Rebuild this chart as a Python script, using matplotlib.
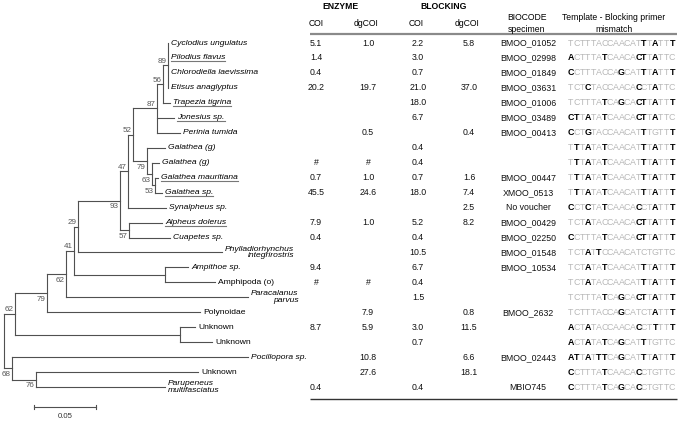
import matplotlib.pyplot as plt
from matplotlib.transforms import offset_copy, IdentityTransform
from matplotlib.lines import Line2D

plt.rcParams['font.family'] = ['Liberation Sans', 'DejaVu Sans']

# taxa in tree order (one table row each)
taxa = ["Cyclodius ungulatus", "Pilodius flavus", "Chlorodiella laevissima", "Etisus anaglyptus",
        "Trapezia tigrina", "Jonesius sp.", "Perinia tumida", "Galathea (g)", "Galathea (g)",
        "Galathea mauritiana", "Galathea sp.", "Synalpheus sp.", "Alpheus dolerus", "Cuapetes sp.",
        "Phylladiorhynchus\nintegrirostris", "Ampithoe sp.", "Amphipoda (o)", "Paracalanus\nparvus",
        "Polynoidae", "Unknown", "Unknown", "Pocillopora sp.", "Unknown", "Parupeneus\nmultifasciatus"]
not_italic = ["Amphipoda (o)", "Polynoidae", "Unknown"]
underlined = [1, 4, 5, 9, 10, 12]

# tree: tips are (row, branch length), nodes are (support, branch length, children, label side)
tree = (None, 0.0, [
    (62, 0.0089, [
        (79, 0.0258, [
            (62, 0.0153, [
                (41, 0.0065, [
                    (29, 0.0032, [
                        (93, 0.0339, [
                            (47, 0.0065, [
                                (52, 0.0040, [
                                    (87, 0.0194, [
                                        (56, 0.0048, [
                                            (89, 0.0040, [(0, 0.0), (1, 0.0), (2, 0.0), (3, 0.0)], 'a'),
                                            (4, 0.0056)], 'a'),
                                        (5, 0.0137), (6, 0.0185)], 'a'),
                                    (79, 0.0113, [
                                        (7, 0.0145),
                                        (63, 0.0040, [
                                            (8, 0.0056),
                                            (53, 0.0024, [(9, 0.0024), (10, 0.0056)], 'b')], 'b')], 'b')], 'a'),
                                (11, 0.0306)], 'a'),
                            (57, 0.0073, [(12, 0.0266), (13, 0.0331)], 'b')], 'b'),
                        (14, 0.1161)], 'a'),
                    (None, 0.0734, [(15, 0.0185), (16, 0.0403)], 'a')], 'a'),
                (17, 0.1468)], 'b'),
            (18, 0.1234)], 'b'),
        (None, 0.1331, [(19, 0.0121), (20, 0.0258)], 'a')], 'a'),
    (68, 0.0065, [
        (21, 0.1903),
        (76, 0.0194, [(22, 0.1306), (23, 0.1040)], 'b')], 'b')], 'a')

# table values
enzyme_coi = ["5.1", "1.4", "0.4", "20.2", "", "", "", "", "#", "0.7", "45.5", "", "7.9", "0.4",
              "", "9.4", "#", "", "", "8.7", "", "", "", "0.4"]
enzyme_dgcoi = ["1.0", "", "", "19.7", "", "", "0.5", "", "#", "1.0", "24.6", "", "1.0", "",
                "", "", "#", "", "7.9", "5.9", "", "10.8", "27.6", ""]
blocking_coi = ["2.2", "3.0", "0.7", "21.0", "18.0", "6.7", "", "0.4", "0.4", "0.7", "18.0", "", "5.2", "0.4",
                "10.5", "6.7", "0.4", "1.5", "", "3.0", "0.7", "", "", "0.4"]
blocking_dgcoi = ["5.8", "", "", "37.0", "", "", "0.4", "", "", "1.6", "7.4", "2.5", "8.2", "",
                  "", "", "", "", "0.8", "11.5", "", "6.6", "18.1", ""]
biocode = ["BMOO_01052", "BMOO_02998", "BMOO_01849", "BMOO_03631", "BMOO_01006", "BMOO_03489",
           "BMOO_00413", "", "", "BMOO_00447", "XMOO_0513", "No voucher", "BMOO_00429", "BMOO_02250",
           "BMOO_01548", "BMOO_10534", "", "", "BMOO_2632", "", "", "BMOO_02443", "", "MBIO745"]
primer = "TCTTTACCAACATCTGTTC"
templates = ["TCTTTACCAACATTTATTT", "ACTTTATCAACACTTATTC", "CCTTTACCAGCATTTATTT", "TCTCTACCAACACCTATTC",
             "TCTTTATCAGCACTTATTT", "CTTATATCAACACTTATTC", "CCTGTACCAACATTTGTTT", "TTTATATCAACATTTATTT",
             "TTTATATCAACATTTATTT", "TTTATATCAACATTTATTT", "TTTATATCAACATTTATTT", "CCTCTATCAACACCTATTT",
             "TCTATACCAACACTTATTT", "CCTTTATCAACACTTATTT", "TCTATTCCAACATCTGTTC", "TCTATATCAACATTTATTT",
             "TCTATACCAACATTTATTT", "TCTTTATCAGCACTTATTT", "TCTTTACCAGCATCTATTT", "ACTATACCAACACCTTTTT",
             "ACTATATCAGCATTTGTTC", "ATTATTTCAGCATTTATTT", "CCTTTATCAACACCTGTTC", "CCTTTATCAGCACCTGTTC"]

fig = plt.figure(figsize=(6.79, 4.22), dpi=100)
ytop, ybot = -2.874, 25.33

# ---- tree
ax = fig.add_axes([0, 0, 300 / 679, 1])
ax.set_xlim(-4 / 1240, 296 / 1240)
ax.set_ylim(ybot, ytop)
ax.axis('off')
lc = '#505050'
lw = 0.8
tip_tr = offset_copy(ax.transData, fig, x=3, units='dots')
sup_tr = offset_copy(ax.transData, fig, x=-1.5, units='dots')
labels = {}


def draw(node, x0):
    if len(node) == 2:
        i, bl = node
        x1 = x0 + bl
        ax.plot([x0, x1], [i, i], color=lc, lw=lw)
        name = taxa[i]
        style = 'normal' if name in not_italic else 'italic'
        align = 'left' if i == 23 else 'right'
        labels[i] = ax.text(x1, i, name, transform=tip_tr, ha='left', va='center', fontsize=6.1,
                            style=style, multialignment=align, linespacing=0.95)
        return i
    sup, bl, kids, side = node
    x1 = x0 + bl
    ys = [draw(k, x1) for k in kids]
    y = (ys[0] + ys[-1]) / 2
    ax.plot([x1, x1], [ys[0], ys[-1]], color=lc, lw=lw)
    if bl > 0:
        ax.plot([x0, x1], [y, y], color=lc, lw=lw)
    if sup is not None:
        dy = -0.27 if side == 'a' else 0.42
        ax.text(x1, y + dy, str(sup), transform=sup_tr, ha='right', va='center',
                fontsize=5.8, color='#555555')
    return y


draw(tree, 0.0)

# scale bar
sb0, sb = 0.0242, 0.05
ax.plot([sb0, sb0 + sb], [24.33, 24.33], color=lc, lw=lw)
ax.plot([sb0, sb0], [24.18, 24.48], color=lc, lw=lw)
ax.plot([sb0 + sb, sb0 + sb], [24.18, 24.48], color=lc, lw=lw)
ax.text(sb0 + sb / 2, 24.95, "0.05", ha='center', va='center', fontsize=5.6, color='#333333')

# ---- table
tab = fig.add_axes([0, 0, 1, 1])
tab.set_xlim(0, 679)
tab.set_ylim(ybot, ytop)
tab.axis('off')
tab.patch.set_alpha(0)

tab.text(340, -2.41, "ENZYME", ha='center', va='center', fontsize=6.2, fontweight='bold')
tab.text(444, -2.41, "BLOCKING", ha='center', va='center', fontsize=6.2, fontweight='bold')
for x, h in zip([316, 366, 416, 467], ["COI", "dgCOI", "COI", "dgCOI"]):
    tab.text(x, -1.27, h, ha='center', va='center', fontsize=6.2)
tab.text(527, -1.3, "BIOCODE\nspecimen", ha='center', va='center', fontsize=6.2, linespacing=1.45)
tab.text(614, -1.3, "Template - Blocking primer\nmismatch", ha='center', va='center', fontsize=6.2,
         linespacing=1.45)
tab.plot([310, 677], [-0.57, -0.57], color='#8a8a8a', lw=1.6, solid_capstyle='butt')
tab.plot([310, 677], [23.8, 23.8], color='#333333', lw=1.0, solid_capstyle='butt')

cols = [(316, enzyme_coi), (368, enzyme_dgcoi), (418, blocking_coi), (469, blocking_dgcoi), (528, biocode)]
for x, vals in cols:
    for r, v in enumerate(vals):
        if v:
            tab.text(x, r, v, ha='center', va='center', fontsize=6.3, color='#111111')

seq_x0, seq_dx = 570.8, 5.63
for r, seq in enumerate(templates):
    for k, (b, p) in enumerate(zip(seq, primer)):
        mis = b != p
        tab.text(seq_x0 + k * seq_dx, r, b, ha='center', va='center', fontsize=6.4,
                 fontweight='bold' if mis else 'normal', color='black' if mis else '#b8b8b8')

# underline vouchered taxa
fig.canvas.draw()
rend = fig.canvas.get_renderer()
for i in underlined:
    bb = labels[i].get_window_extent(rend)
    fig.add_artist(Line2D([bb.x0, bb.x1], [bb.y0 + 0.5, bb.y0 + 0.5], color='#777777', lw=0.8,
                          transform=IdentityTransform()))

fig.savefig('out.png', dpi=100)
